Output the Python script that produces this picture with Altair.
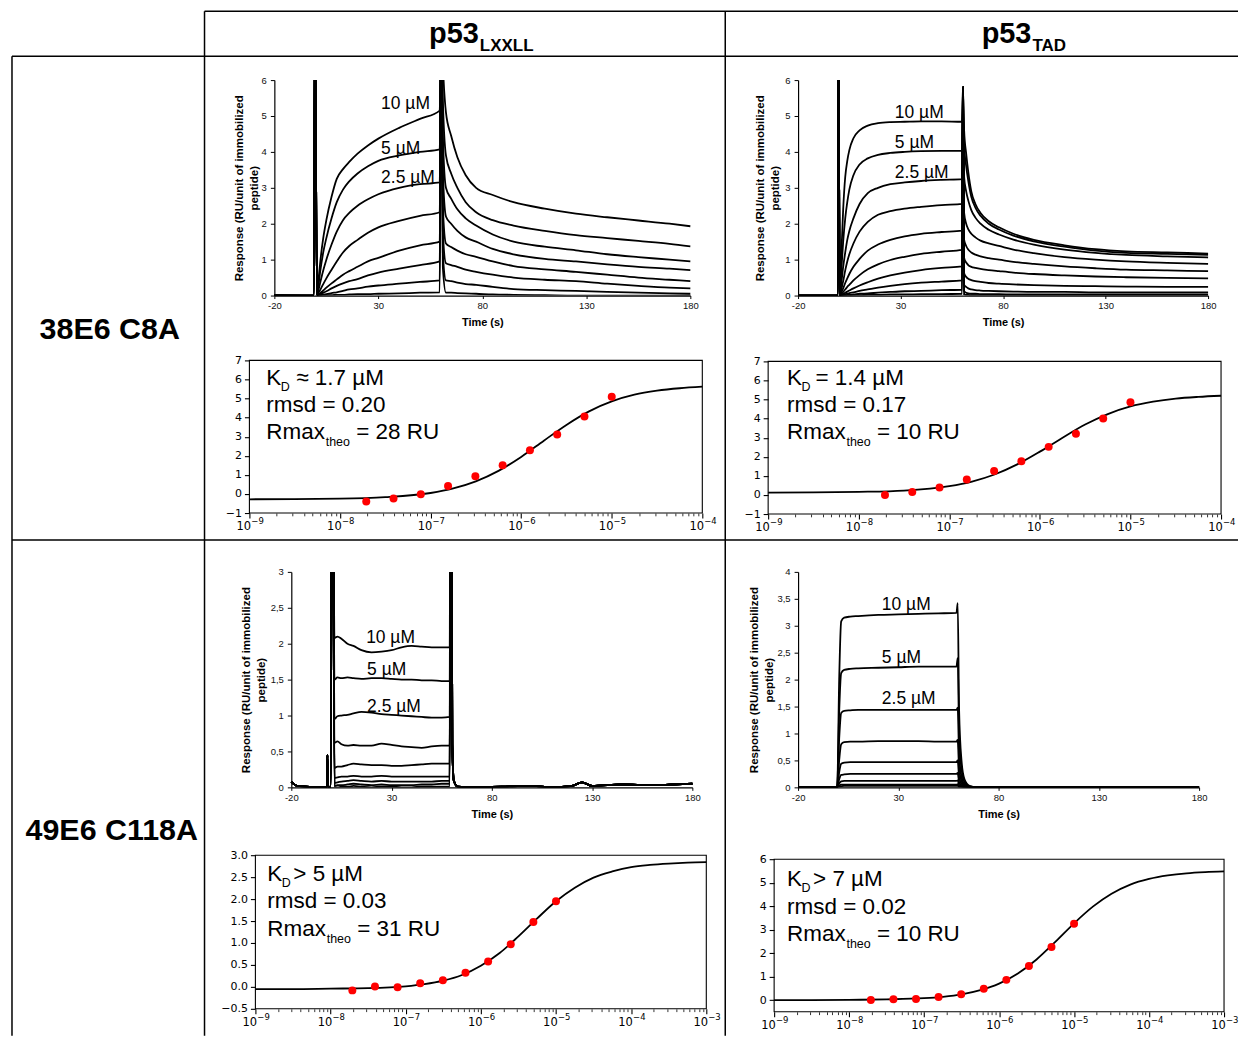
import altair as alt
import pandas as pd

FONT = "Liberation Sans"
MPL_FONT = "DejaVu Sans"

# ---------------- text ----------------
col_main = ["p53", "p53"]
col_sub = ["LXXLL", "TAD"]
row_titles = ["38E6 C8A", "49E6 C118A"]
conc_labels = ["10 µM", "5 µM", "2.5 µM"]
y_title = ["Response (RU/unit of immobilized", "peptide)"]
x_title = "Time (s)"
sens_x_ticks = [-20, 30, 80, 130, 180]
dec_x4 = [1e-9, 1e-8, 1e-7, 1e-6, 1e-5, 1e-4]
dec_x3 = dec_x4 + [1e-3]
dec_lab4 = ["\u22129", "\u22128", "\u22127", "\u22126", "\u22125", "\u22124"]
dec_lab3 = dec_lab4 + ["\u22123"]

# ---------------- sensorgram A : 38E6 C8A / p53 LXXLL ----------------
A_t = [-20, -1, -0.5, 0.5, 1, 2, 3.5, 5, 7.5, 10, 13, 16, 20, 25, 30, 40, 50, 59.5,
       60.2, 61, 62.5, 65, 68, 72, 77, 85, 95, 110, 125, 140, 155, 170, 180]
A_c1 = [0.02, 0, 8, 0, 0.3, 0.9, 1.6, 2.1, 2.75, 3.25, 3.52, 3.72, 3.95, 4.18, 4.37, 4.67, 4.92, 5.15,
        8, 6.5, 5.1, 4.45, 3.85, 3.35, 3.0, 2.8, 2.6, 2.42, 2.28, 2.18, 2.09, 2.0, 1.93]
A_c2 = [0, 0, 8, 0, 0.2, 0.65, 1.2, 1.6, 2.15, 2.6, 2.95, 3.18, 3.4, 3.6, 3.75, 3.9, 4.0, 4.07,
        8, 5.5, 3.9, 3.4, 3.0, 2.6, 2.32, 2.1, 1.95, 1.8, 1.68, 1.6, 1.52, 1.44, 1.37]
A_c3 = [0, 0, 8, 0, 0.1, 0.35, 0.7, 1.0, 1.42, 1.78, 2.1, 2.3, 2.5, 2.68, 2.82, 3.0, 3.1, 3.15,
        8, 4.5, 3.0, 2.7, 2.4, 2.15, 1.95, 1.7, 1.5, 1.36, 1.26, 1.15, 1.07, 1.0, 0.95]
A_c4 = [0, 0, 8, 0, 0.05, 0.15, 0.32, 0.48, 0.72, 0.95, 1.2, 1.38, 1.55, 1.75, 1.9, 2.08, 2.22, 2.32,
        8, 3.5, 2.2, 2.0, 1.8, 1.62, 1.5, 1.3, 1.15, 1.02, 0.95, 0.87, 0.8, 0.75, 0.71]
A_c5 = [0, 0, 8, 0, 0.02, 0.06, 0.14, 0.22, 0.34, 0.45, 0.58, 0.68, 0.8, 0.95, 1.05, 1.25, 1.4, 1.5,
        8, 2.5, 1.45, 1.35, 1.25, 1.15, 1.08, 0.95, 0.82, 0.73, 0.66, 0.58, 0.5, 0.44, 0.4]
A_c6 = [0, 0, 8, 0, 0.01, 0.04, 0.08, 0.12, 0.2, 0.27, 0.34, 0.4, 0.46, 0.56, 0.64, 0.75, 0.85, 0.95,
        8, 1.8, 0.9, 0.85, 0.8, 0.72, 0.66, 0.58, 0.5, 0.44, 0.4, 0.33, 0.27, 0.22, 0.2]
A_c7 = [0, 0, 8, 0, 0, 0.01, 0.03, 0.04, 0.07, 0.09, 0.13, 0.17, 0.2, 0.25, 0.28, 0.33, 0.38, 0.42,
        8, 1.2, 0.42, 0.4, 0.36, 0.32, 0.3, 0.24, 0.18, 0.15, 0.13, 0.1, 0.08, 0.06, 0.05]
A_c8 = [0, 0, 8, 0, 0, 0, 0, 0.01, 0.01, 0.02, 0.02, 0.03, 0.04, 0.04, 0.05, 0.06, 0.08, 0.09,
        8, 0.8, 0.08, 0.08, 0.07, 0.06, 0.05, 0.03, 0.02, 0.01, 0, 0, 0, 0, 0]
A_curves = [A_c1, A_c2, A_c3, A_c4, A_c5, A_c6, A_c7, A_c8]

# ---------------- sensorgram B : 38E6 C8A / p53 TAD ----------------
B_t = [-20, -0.6, -0.3, 0.3, 1, 2, 3, 4, 5, 7, 10, 14, 19, 25, 32, 40, 50, 60,
       60.4, 61, 62, 63, 64.5, 66.5, 69, 73, 78, 85, 95, 110, 125, 140, 160, 180]
B_c1 = [0, 0, 7, 0, 1.0, 2.4, 3.3, 3.75, 4.05, 4.38, 4.6, 4.73, 4.8, 4.83, 4.84, 4.85, 4.85, 4.84,
        5.8, 4.6, 3.95, 3.45, 2.9, 2.55, 2.3, 2.07, 1.9, 1.72, 1.55, 1.4, 1.29, 1.23, 1.2, 1.17]
B_c2 = [0, 0, 7, 0, 0.6, 1.5, 2.15, 2.6, 2.95, 3.35, 3.65, 3.82, 3.92, 3.97, 4.0, 4.02, 4.03, 4.03,
        5.8, 4.2, 3.6, 3.2, 2.75, 2.45, 2.22, 2.0, 1.84, 1.67, 1.51, 1.36, 1.25, 1.19, 1.16, 1.13]
B_c3 = [0, 0, 7, 0, 0.3, 0.8, 1.2, 1.55, 1.8, 2.15, 2.55, 2.85, 3.0, 3.1, 3.15, 3.19, 3.22, 3.24,
        5.8, 3.3, 2.9, 2.65, 2.38, 2.17, 2.0, 1.83, 1.7, 1.56, 1.42, 1.28, 1.19, 1.13, 1.09, 1.06]
B_c4 = [0, 0, 7, 0, 0.15, 0.4, 0.7, 0.95, 1.15, 1.45, 1.78, 2.05, 2.25, 2.35, 2.42, 2.47, 2.52, 2.55,
        5.8, 2.3, 2.0, 1.85, 1.72, 1.62, 1.53, 1.45, 1.38, 1.28, 1.18, 1.07, 1.0, 0.95, 0.91, 0.88]
B_c5 = [0, 0, 7, 0, 0.08, 0.2, 0.35, 0.48, 0.6, 0.8, 1.02, 1.25, 1.42, 1.55, 1.65, 1.72, 1.77, 1.81,
        5.8, 1.55, 1.38, 1.28, 1.2, 1.14, 1.09, 1.04, 1.0, 0.94, 0.88, 0.81, 0.76, 0.72, 0.7, 0.68]
B_c6 = [0, 0, 7, 0, 0.04, 0.1, 0.17, 0.24, 0.3, 0.42, 0.57, 0.73, 0.87, 0.99, 1.08, 1.16, 1.22, 1.27,
        5.8, 1.05, 0.92, 0.85, 0.8, 0.77, 0.74, 0.71, 0.68, 0.64, 0.6, 0.56, 0.53, 0.51, 0.49, 0.48]
B_c7 = [0, 0, 7, 0, 0.02, 0.05, 0.08, 0.11, 0.14, 0.2, 0.28, 0.37, 0.47, 0.56, 0.64, 0.71, 0.77, 0.81,
        5.8, 0.62, 0.52, 0.47, 0.43, 0.4, 0.38, 0.35, 0.33, 0.31, 0.29, 0.27, 0.26, 0.25, 0.24, 0.24]
B_c8 = [0, 0, 7, 0, 0.01, 0.02, 0.04, 0.05, 0.07, 0.09, 0.13, 0.17, 0.22, 0.27, 0.32, 0.36, 0.39, 0.42,
        5.8, 0.3, 0.24, 0.2, 0.17, 0.15, 0.14, 0.13, 0.12, 0.11, 0.1, 0.1, 0.09, 0.09, 0.09, 0.09]
B_c9 = [0, 0, 7, 0, 0, 0.01, 0.01, 0.02, 0.02, 0.03, 0.05, 0.06, 0.08, 0.1, 0.12, 0.13, 0.15, 0.16,
        5.8, 0.12, 0.08, 0.06, 0.05, 0.05, 0.04, 0.04, 0.04, 0.03, 0.03, 0.03, 0.03, 0.03, 0.03, 0.03]
B_c10 = [0, 0, 7, 0, 0, 0, 0, 0, 0.01, 0.01, 0.01, 0.02, 0.02, 0.03, 0.03, 0.04, 0.04, 0.05,
         5.8, 0.03, 0.02, 0.02, 0.01, 0.01, 0.01, 0.01, 0.01, 0.01, 0, 0, 0, 0, 0, 0]
B_curves = [B_c1, B_c2, B_c3, B_c4, B_c5, B_c6, B_c7, B_c8, B_c9, B_c10]

# ---------------- sensorgram E : 49E6 C118A / p53 LXXLL ----------------
E_t = [-20, -17, -5, -2.3, -2.0, -1.7, -0.3, 0.5,
       1.5, 3, 5, 8, 11, 15, 20, 25, 30, 35, 40, 45, 50, 55, 59,
       59.5, 60.3, 61, 63, 70, 85, 100, 110, 120, 125, 130, 145, 160, 170, 180]
E_pre = [0.08, 0.02, 0.0, 0.0, 0.45, 0.0, 0.0, 8]
E_post = [8, 0.6, 0.1, 0.01, 0.0, 0.01, 0.02, 0.0, 0.02, 0.07, 0.02, 0.04, 0.03, 0.04, 0.05]
E_c1 = [2.08, 2.1, 2.07, 2.0, 1.97, 1.91, 1.88, 1.89, 1.91, 1.95, 1.97, 1.96, 1.95, 1.95, 1.95]
E_c2 = [1.5, 1.53, 1.52, 1.53, 1.52, 1.51, 1.52, 1.52, 1.51, 1.5, 1.5, 1.49, 1.49, 1.48, 1.48]
E_c3 = [0.95, 0.99, 1.0, 1.01, 1.03, 1.05, 1.04, 1.02, 1.01, 1.0, 0.99, 0.98, 0.97, 0.97, 0.98]
E_c4 = [0.62, 0.64, 0.6, 0.58, 0.59, 0.58, 0.58, 0.61, 0.59, 0.57, 0.56, 0.55, 0.57, 0.58, 0.58]
E_c5 = [0.27, 0.29, 0.29, 0.31, 0.33, 0.32, 0.31, 0.31, 0.3, 0.3, 0.31, 0.32, 0.33, 0.33, 0.33]
E_c6 = [0.13, 0.14, 0.15, 0.15, 0.16, 0.15, 0.15, 0.16, 0.15, 0.15, 0.15, 0.15, 0.15, 0.15, 0.15]
E_c7 = [0.06, 0.07, 0.08, 0.09, 0.1, 0.09, 0.08, 0.09, 0.08, 0.08, 0.08, 0.08, 0.08, 0.09, 0.09]
E_c8 = [0.02, 0.03, 0.03, 0.04, 0.05, 0.04, 0.03, 0.04, 0.03, 0.03, 0.03, 0.04, 0.04, 0.05, 0.05]
E_c9 = [0.0, 0.0, 0.01, 0.01, 0.02, 0.01, 0.0, 0.01, 0.01, 0.0, 0.0, 0.01, 0.01, 0.01, 0.01]
E_plateaus = [E_c1, E_c2, E_c3, E_c4, E_c5, E_c6, E_c7, E_c8, E_c9]

# ---------------- sensorgram F : 49E6 C118A / p53 TAD ----------------
F_t = [-20, -0.5, 0.5, 1.5, 3, 6, 10, 20, 30, 40, 50, 59,
       59.6, 60.3, 61.5, 63, 65.5, 70, 100, 140, 180]
F_c1 = [0, 0, 2.0, 3.08, 3.15, 3.17, 3.18, 3.2, 3.21, 3.22, 3.23, 3.24, 3.42, 1.45, 0.5, 0.15, 0.03, 0, 0, 0, 0]
F_c2 = [0, 0, 1.4, 2.12, 2.18, 2.2, 2.21, 2.22, 2.23, 2.24, 2.24, 2.24, 2.4, 1.0, 0.35, 0.1, 0.02, 0, 0, 0, 0]
F_c3 = [0, 0, 0.9, 1.38, 1.42, 1.43, 1.44, 1.44, 1.44, 1.44, 1.44, 1.44, 1.48, 0.6, 0.2, 0.06, 0.01, 0, 0, 0, 0]
F_c4 = [0, 0, 0.5, 0.8, 0.84, 0.85, 0.85, 0.86, 0.86, 0.86, 0.85, 0.85, 0.88, 0.35, 0.12, 0.04, 0.01, 0, 0, 0, 0]
F_c5 = [0, 0, 0.28, 0.44, 0.46, 0.47, 0.47, 0.47, 0.47, 0.47, 0.47, 0.47, 0.5, 0.2, 0.07, 0.02, 0, 0, 0, 0, 0]
F_c6 = [0, 0, 0.15, 0.23, 0.24, 0.25, 0.25, 0.25, 0.25, 0.25, 0.25, 0.25, 0.27, 0.1, 0.04, 0.01, 0, 0, 0, 0, 0]
F_c7 = [0, 0, 0.07, 0.11, 0.12, 0.12, 0.12, 0.12, 0.12, 0.12, 0.12, 0.12, 0.13, 0.05, 0.02, 0, 0, 0, 0, 0, 0]
F_c8 = [0, 0, 0.03, 0.05, 0.05, 0.05, 0.05, 0.05, 0.05, 0.05, 0.05, 0.05, 0.06, 0.02, 0.01, 0, 0, 0, 0, 0, 0]
F_c9 = [0, 0, 0.01, 0.02, 0.03, 0.03, 0.03, 0.03, 0.03, 0.03, 0.03, 0.03, 0.03, 0.01, 0, 0, 0, 0, 0, 0, 0]
F_curves = [F_c1, F_c2, F_c3, F_c4, F_c5, F_c6, F_c7, F_c8, F_c9]

# ---------------- steady-state fits ----------------
conc = [1.95e-8, 3.9e-8, 7.8e-8, 1.56e-7, 3.125e-7, 6.25e-7, 1.25e-6, 2.5e-6, 5e-6, 1e-5]
fit_x4 = [1e-9, 3.16e-9, 1e-8, 3.16e-8, 1e-7, 1.78e-7, 3.16e-7, 5.62e-7, 1e-6, 1.78e-6,
          3.16e-6, 5.62e-6, 1e-5, 1.78e-5, 3.16e-5, 5.62e-5, 1e-4]
fit_x3 = fit_x4 + [1.78e-4, 3.16e-4, 5.62e-4, 1e-3]

C_fit = [-0.28, -0.27, -0.25, -0.17, 0.05, 0.29, 0.66, 1.21, 1.94, 2.79, 3.62, 4.33, 4.85, 5.20, 5.41, 5.54, 5.62]
C_pts = [-0.4, -0.24, -0.01, 0.42, 0.93, 1.5, 2.29, 3.11, 4.06, 5.1]
D_fit = [0.12, 0.13, 0.16, 0.23, 0.46, 0.70, 1.07, 1.60, 2.27, 3.00, 3.69, 4.24, 4.64, 4.89, 5.05, 5.14, 5.20]
D_pts = [0.0, 0.15, 0.39, 0.81, 1.26, 1.77, 2.52, 3.21, 4.01, 4.86]
G_fit = [-0.05, -0.05, -0.04, -0.03, 0.01, 0.06, 0.14, 0.27, 0.48, 0.77, 1.15, 1.56, 1.95, 2.26,
         2.49, 2.63, 2.73, 2.78, 2.81, 2.83, 2.84]
G_pts = [-0.08, 0.01, -0.01, 0.08, 0.15, 0.32, 0.58, 0.97, 1.48, 1.95]
H_fit = [0.0, 0.0, 0.01, 0.03, 0.08, 0.14, 0.24, 0.42, 0.70, 1.13, 1.73, 2.48, 3.27, 3.98,
         4.53, 4.92, 5.16, 5.31, 5.40, 5.45, 5.48]
H_pts = [0.0, 0.03, 0.05, 0.13, 0.25, 0.48, 0.86, 1.45, 2.26, 3.25]

C_ann = ["≈ 1.7 µM", "rmsd = 0.20", "= 28 RU"]
D_ann = ["= 1.4 µM", "rmsd = 0.17", "= 10 RU"]
G_ann = ["> 5 µM", "rmsd = 0.03", "= 31 RU"]
H_ann = ["> 7 µM", "rmsd = 0.02", "= 10 RU"]


# ================= helpers =================
def txt(s, x, y, size, weight="normal", align="left", font=FONT):
    return alt.Chart(pd.DataFrame({"s": [s]})).mark_text(
        align=align, baseline="alphabetic", font=font, fontSize=size,
        fontWeight=weight, color="black"
    ).encode(text="s:N", x=alt.value(x), y=alt.value(y))


def spacer(w, h):
    return alt.Chart(pd.DataFrame({"s": [0]})).mark_point(opacity=0).encode(
        x=alt.value(0), y=alt.value(0)).properties(width=w, height=h)


LW = 1.5


def hrule(x1, x2, y):
    return alt.Chart(pd.DataFrame({"s": [0]})).mark_rule(color="black", strokeWidth=LW).encode(
        x=alt.value(x1), x2=alt.value(x2), y=alt.value(y))


def vrule(x, y1, y2):
    return alt.Chart(pd.DataFrame({"s": [0]})).mark_rule(color="black", strokeWidth=LW).encode(
        x=alt.value(x), y=alt.value(y1), y2=alt.value(y2))


def sens_df(t, curves):
    rows = []
    for i, c in enumerate(curves):
        assert len(c) == len(t), (len(c), len(t))
        for tt, v in zip(t, c):
            rows.append({"t": tt, "v": v, "curve": i})
    return pd.DataFrame(rows)


def sensorgram(df, ymax, yvals, comma, cw, dx, w, h, title_x, label_pos):
    if comma:
        ylab = "replace(format(datum.value, '~g'), '.', ',')"
    else:
        ylab = "format(datum.value, 'd')"
    xax = alt.Axis(values=sens_x_ticks, labelExpr="(datum.value < 0 ? '-' : '') + format(abs(datum.value), 'd')",
                   title=x_title, titleFont=FONT, titleFontSize=11, titleFontWeight="bold",
                   titleY=27, titleBaseline="middle",
                   labelFont=FONT, labelFontSize=9.5, labelColor="#111", labelPadding=2,
                   labelFlush=False, labelOverlap=False,
                   tickSize=3, tickColor="black", domainColor="black", domainWidth=1.2)
    yax = alt.Axis(values=yvals, labelExpr=ylab, title=y_title, titleFont=FONT, titleFontSize=11.5,
                   titleFontWeight="bold", titleLineHeight=15, titleX=title_x, titleY=h / 2,
                   titleAlign="center", titleBaseline="bottom", offset=-dx,
                   labelFont=FONT, labelFontSize=9.5, labelColor="#111", labelPadding=4,
                   labelOverlap=False, tickSize=4, tickColor="black", domainColor="black", domainWidth=1.2)
    lines = alt.Chart(df).mark_line(color="black", strokeWidth=1.8, clip=True, interpolate="monotone").encode(
        x=alt.X("t:Q", scale=alt.Scale(domain=[-20, 180], range=[dx, dx + w], nice=False, zero=False), axis=xax),
        y=alt.Y("v:Q", scale=alt.Scale(domain=[0, ymax], nice=False, zero=False), axis=yax),
        detail="curve:N",
    )
    texts = [txt(lab, dx + p[0], p[1], 17.5) for lab, p in zip(conc_labels, label_pos)]
    return alt.layer(lines, *texts).properties(width=cw, height=h)


MAJOR = "abs(log(datum.value)/LN10 - round(log(datum.value)/LN10)) < 0.01"


def log_ticks(max_exp):
    vals = []
    for e in range(-9, max_exp):
        for k in range(1, 10):
            vals.append(k * 10.0 ** e)
    vals.append(10.0 ** max_exp)
    return vals


def fit_plot(fx, fy, py, max_exp, dec_x, dec_lab, ydom, yvals, yfmt, cw, dx, dy, w, h, ann, x0, ys_, ann_off):
    xmax = 10.0 ** max_exp
    xs = alt.Scale(type="log", domain=[1e-9, xmax], range=[dx, dx + w], nice=False)
    ysc = alt.Scale(domain=ydom, range=[h + dy, dy], nice=False, zero=False)
    xax = alt.Axis(values=log_ticks(max_exp), labels=False,
                   tickSize={"condition": {"test": MAJOR, "value": 5}, "value": 2.8},
                   tickWidth={"condition": {"test": MAJOR, "value": 1.1}, "value": 0.8},
                   tickColor="black", domain=False, title=None)
    yax = alt.Axis(values=yvals, format=yfmt, labelFont=MPL_FONT, labelFontSize=11, labelColor="black",
                   tickSize=5, tickWidth=1.1, tickColor="black", labelPadding=3, domain=False, title=None,
                   labelOverlap=False, labelFlush=False, offset=-dx)
    frame = alt.Chart(pd.DataFrame({"s": [0]})).mark_rect(
        fillOpacity=0, stroke="black", strokeWidth=1.1).encode(
        x=alt.X(datum=1e-9, scale=xs, axis=xax), x2=alt.X2(datum=xmax),
        y=alt.Y(datum=ydom[0], scale=ysc, axis=yax), y2=alt.Y2(datum=ydom[1]))
    line = alt.Chart(pd.DataFrame({"c": fx, "r": fy})).mark_line(
        color="black", strokeWidth=1.8, interpolate="monotone", clip=True).encode(
        x=alt.X("c:Q", scale=xs, axis=xax), y=alt.Y("r:Q", scale=ysc, axis=yax))
    pts = alt.Chart(pd.DataFrame({"c": conc, "r": py})).mark_circle(size=64, color="#ff0000", opacity=1).encode(
        x=alt.X("c:Q", scale=xs, axis=xax), y=alt.Y("r:Q", scale=ysc, axis=yax))
    dec_df = pd.DataFrame({"c": dec_x, "e": dec_lab})
    ten = alt.Chart(dec_df).mark_text(
        text="10", align="right", dx=1.7, baseline="alphabetic", font=MPL_FONT, fontSize=11.5, color="black"
    ).encode(x=alt.X("c:Q", scale=xs, axis=xax), y=alt.value(h + dy + 17))
    sup = alt.Chart(dec_df).mark_text(
        align="left", dx=1.9, baseline="alphabetic", font=MPL_FONT, fontSize=8.5, color="black"
    ).encode(x=alt.X("c:Q", scale=xs, axis=xax), y=alt.value(h + dy + 11.5), text="e:N")
    y1, y2, y3 = (v + dy for v in ys_)
    X0 = dx + x0
    layers = [
        frame, line, pts, ten, sup,
        txt("K", X0, y1, 22.5),
        txt("D", X0 + 14.5, y1 + 5.5, 12.5),
        txt(ann[0], X0 + ann_off, y1, 22.5),
        txt(ann[1], X0, y2, 22.5),
        txt("Rmax", X0, y3, 22.5),
        txt("theo", X0 + 59.5, y3 + 7, 12.5),
        txt(ann[2], X0 + 90, y3, 22.5),
    ]
    return alt.layer(*layers).properties(width=cw, height=h + dy)


def header(main, sub, x, w):
    return alt.layer(txt(main, x, 32, 29, "bold"), txt(sub, x + 51, 40, 17, "bold")).properties(width=w, height=45)


CW1, CW2 = 522, 514

# ================= panels =================
A = sensorgram(sens_df(A_t, A_curves), 6, [0, 1, 2, 3, 4, 5, 6], False, CW1, 70, 417, 216, -30,
               [(107, 29), (107, 74), (107, 103)])
B = sensorgram(sens_df(B_t, B_curves), 6, [0, 1, 2, 3, 4, 5, 6], False, CW2, 73, 411, 216, -33,
               [(97, 38), (97, 68), (97, 98)])
E_curves = [E_pre + p + E_post for p in E_plateaus]
E = sensorgram(sens_df(E_t, E_curves), 3, [0, 0.5, 1, 1.5, 2, 2.5, 3], True, CW1, 87, 402, 216, -40,
               [(75, 71), (76, 103), (76, 140)])
F = sensorgram(sens_df(F_t, F_curves), 4, [0, 0.5, 1, 1.5, 2, 2.5, 3, 3.5, 4], True, CW2, 73, 402, 216, -39,
               [(84, 38), (84, 91), (84, 132)])

C = fit_plot(fit_x4, C_fit, C_pts, -4, dec_x4, dec_lab4, [-1, 7], [-1, 0, 1, 2, 3, 4, 5, 6, 7], "d",
             CW1, 45, 0, 454, 153, C_ann, 17, (25, 52, 79), 30)
D = fit_plot(fit_x4, D_fit, D_pts, -4, dec_x4, dec_lab4, [-1, 7], [-1, 0, 1, 2, 3, 4, 5, 6, 7], "d",
             CW2, 43, 1, 454, 153, D_ann, 19, (24, 51, 78), 28.5)
G = fit_plot(fit_x3, G_fit, G_pts, -3, dec_x3, dec_lab3, [-0.5, 3.0], [-0.5, 0, 0.5, 1.0, 1.5, 2.0, 2.5, 3.0],
             ".1f", CW1, 51, 0, 452, 154, G_ann, 12, (26, 53, 81), 26)
H = fit_plot(fit_x3, H_fit, H_pts, -3, dec_x3, dec_lab3, [-0.5, 6], [0, 1, 2, 3, 4, 5, 6], "d",
             CW2, 49, 4, 451, 153, H_ann, 13, (27, 55, 82), 26)

# ================= layout (table grid + row labels) =================
grid = alt.layer(
    hrule(193, 1229, 0), hrule(0, 1229, 45), hrule(0, 1229, 530),
    vrule(0, 45, 1027), vrule(193, 0, 1027), vrule(715, 0, 1027),
    txt(row_titles[0], 98, 329, 30.5, "bold", "center"),
    txt(row_titles[1], 100, 831, 30.5, "bold", "center"),
).properties(width=193, height=69)

cells = [
    grid, header(col_main[0], col_sub[0], 225, CW1), header(col_main[1], col_sub[1], 257, CW2),
    spacer(193, 281), A, B,
    spacer(193, 212), C, D,
    spacer(193, 284), E, F,
    spacer(193, 181), G, H,
]

chart = alt.concat(
    *cells, columns=3, spacing=0, bounds="flush", align="each",
).properties(
    padding={"left": 1, "top": 1, "right": 0, "bottom": 0}
).configure_view(stroke="transparent", strokeWidth=0).configure_axis(grid=False)

chart.save("out.html", embed_options={"renderer": "svg", "actions": False})
